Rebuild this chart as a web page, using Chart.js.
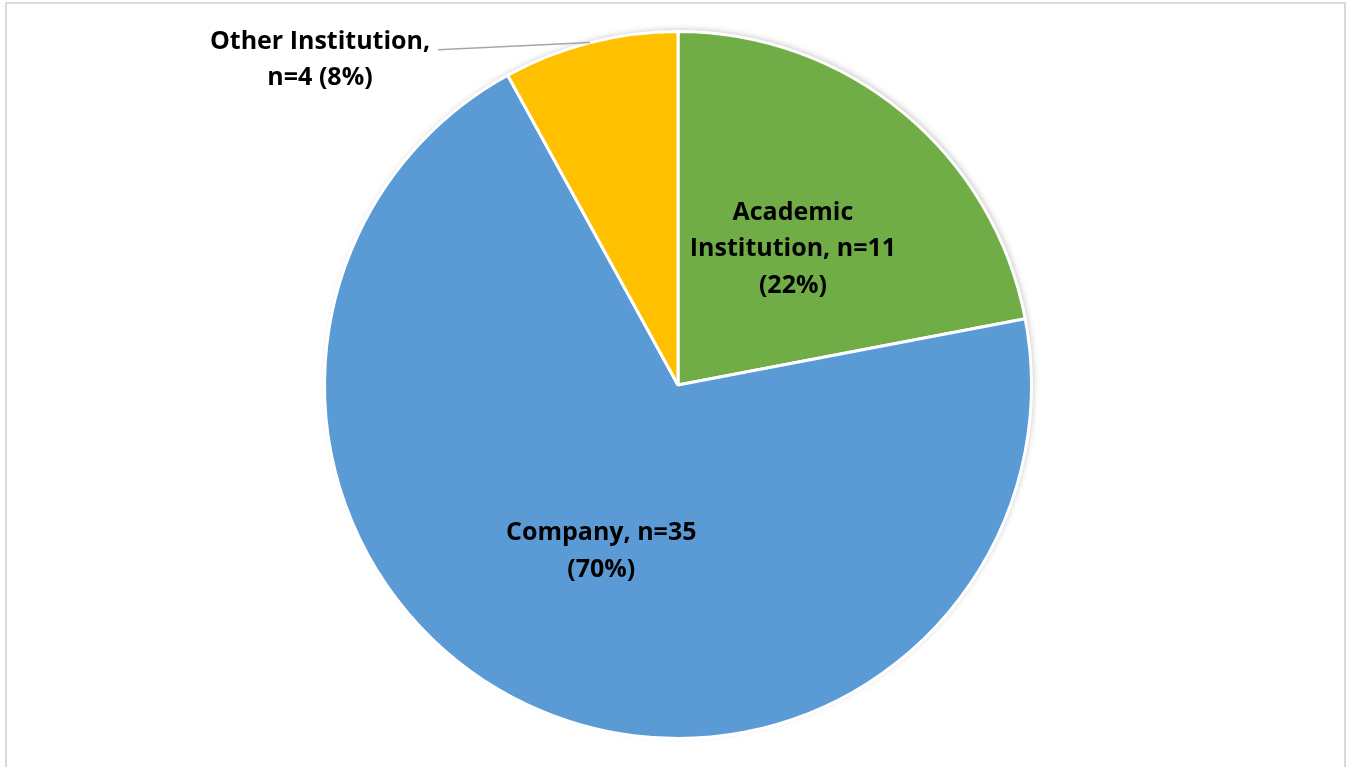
<!DOCTYPE html>
<html>
<head>
<meta charset="utf-8">
<title>Affiliation</title>
<script src="https://cdn.jsdelivr.net/npm/chart.js@4/dist/chart.umd.min.js"></script>
<style>
  html, body { margin: 0; padding: 0; background: #fff; overflow: hidden; }
  #frame { position: absolute; left: 5px; top: 2px; width: 1341px; height: 800px; border: 2px solid #d9d9d9; box-sizing: border-box; }
  #wrap { position: absolute; left: 0; top: 0; width: 1351px; height: 767px; }
</style>
</head>
<body>
<div id="frame"></div>
<div id="wrap"><canvas id="pie"></canvas></div>
<script>
// Données
const categories = ['Academic Institution', 'Company', 'Other Institution'];
const counts = [11, 35, 4];
const percents = [22, 70, 8];
const colors = ['#70ad47', '#5b9bd5', '#ffc000'];

const FONT = 'bold 25px "Open Sans", Lato, sans-serif';

// Lignes de texte pour chaque part
function labelLines(i) {
  if (i === 0) return ['Academic', 'Institution, n=' + counts[i], '(' + percents[i] + '%)'];
  if (i === 1) return [categories[i] + ', n=' + counts[i], '(' + percents[i] + '%)'];
  return [categories[i] + ',', 'n=' + counts[i] + ' (' + percents[i] + '%)'];
}

// Ombre douce sous le disque
const shadowPlugin = {
  id: 'pieShadow',
  beforeDatasetsDraw(chart) {
    const arc = chart.getDatasetMeta(0).data[0];
    if (!arc) return;
    const ctx = chart.ctx;
    ctx.save();
    ctx.shadowColor = 'rgba(0,0,0,0.28)';
    ctx.shadowBlur = 7;
    ctx.shadowOffsetX = 2;
    ctx.shadowOffsetY = -2;
    ctx.fillStyle = '#fff';
    ctx.beginPath();
    ctx.arc(arc.x, arc.y, arc.outerRadius - 1, 0, Math.PI * 2);
    ctx.fill();
    ctx.restore();
  }
};

// Étiquettes : dedans pour les grandes parts, dehors avec trait pour la petite
const labelPlugin = {
  id: 'sliceLabels',
  afterDatasetsDraw(chart) {
    const ctx = chart.ctx;
    const meta = chart.getDatasetMeta(0);
    ctx.save();
    ctx.font = FONT;
    ctx.fillStyle = '#000';
    ctx.textAlign = 'center';
    ctx.textBaseline = 'middle';
    const lh = 36.5;
    meta.data.forEach((arc, i) => {
      const mid = (arc.startAngle + arc.endAngle) / 2;
      const lines = labelLines(i);
      if (percents[i] >= 15) {
        const d = arc.outerRadius * 0.51;
        const cx = arc.x + Math.cos(mid) * d;
        const cy = arc.y + Math.sin(mid) * d + 3;
        lines.forEach((t, k) => ctx.fillText(t, cx, cy + (k - (lines.length - 1) / 2) * lh));
      } else {
        const ex = arc.x + Math.cos(mid) * arc.outerRadius;
        const ey = arc.y + Math.sin(mid) * arc.outerRadius;
        const cx = arc.x - 358;
        const cy = arc.y - 325;
        const w = ctx.measureText(lines[0]).width;
        ctx.strokeStyle = '#a6a6a6';
        ctx.lineWidth = 1.5;
        ctx.beginPath();
        ctx.moveTo(cx + w / 2 + 8, cy - lh / 2 + 8);
        ctx.lineTo(ex, ey);
        ctx.stroke();
        lines.forEach((t, k) => ctx.fillText(t, cx, cy + (k - (lines.length - 1) / 2) * lh));
      }
    });
    ctx.restore();
  }
};

new Chart(document.getElementById('pie'), {
  type: 'pie',
  data: {
    labels: categories,
    datasets: [{
      data: counts,
      backgroundColor: colors,
      borderColor: '#ffffff',
      borderWidth: 3,
    }],
  },
  options: {
    responsive: true,
    maintainAspectRatio: false,
    animation: false,
    layout: { padding: { top: 30, bottom: 27, left: 5, right: 0 } },
    plugins: { legend: { display: false }, tooltip: { enabled: false } },
  },
  plugins: [shadowPlugin, labelPlugin],
});
</script>
</body>
</html>
